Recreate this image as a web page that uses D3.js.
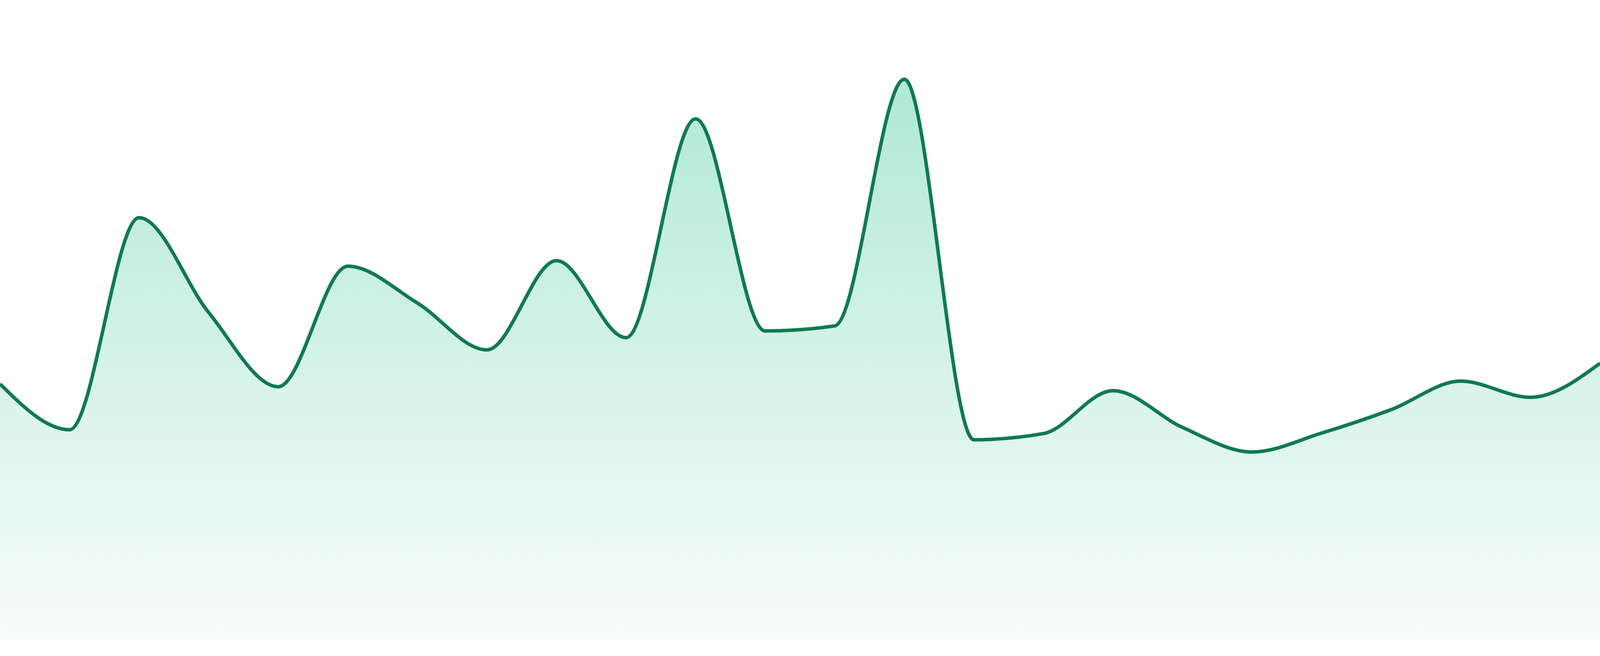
<!DOCTYPE html>
<html>
<head>
<meta charset="utf-8">
<script src="https://cdn.jsdelivr.net/npm/d3@7"></script>
<style>
  html, body { margin: 0; padding: 0; background: #fff; overflow: hidden; }
  svg { display: block; }
</style>
</head>
<body>
<svg id="chart"></svg>
<script>
// the chart was laid out for 4800x1680; fit it to whatever the window really is
const width = window.innerWidth || 4800;
const height = window.innerHeight || 1680;
const ky = height / 1680;

// one value per step
const steps = d3.range(24);
const values = [45.4, 37.2, 75.2, 58.2, 44.9, 66.5, 59.9, 51.5, 67.5, 53.7, 92.9, 54.9,
                55.8, 100, 35.4, 36.5, 44.2, 37.6, 33.2, 36.6, 40.8, 45.9, 43.0, 49.1];

const lineColor = "#107a50";
const fillColor = "#10b981";

const svg = d3.select("#chart").attr("width", width).attr("height", height);

var xScale = d3.scaleLinear()
    .domain([0, steps.length - 1])
    .range([0, width]);

var yScale = d3.scaleLinear()
    .domain([0, 100])
    .range([1632 * ky, 203 * ky]);

const defs = svg.append("defs");
const grad = defs.append("linearGradient")
    .attr("id", "areaFill")
    .attr("x1", 0).attr("y1", 0)
    .attr("x2", 0).attr("y2", 1);
grad.append("stop").attr("offset", "0%").attr("stop-color", fillColor).attr("stop-opacity", 0.33);
grad.append("stop").attr("offset", "100%").attr("stop-color", fillColor).attr("stop-opacity", 0.03);

var area = d3.area()
    .x(function (d, i) { return xScale(steps[i]); })
    .y0(yScale(0))
    .y1(function (d) { return yScale(d); })
    .curve(d3.curveMonotoneX);

var line = d3.line()
    .x(function (d, i) { return xScale(steps[i]); })
    .y(function (d) { return yScale(d); })
    .curve(d3.curveMonotoneX);

svg.append("path")
    .datum(values)
    .attr("fill", "url(#areaFill)")
    .attr("d", area);

svg.append("path")
    .datum(values)
    .attr("fill", "none")
    .attr("stroke", lineColor)
    .attr("stroke-width", 9)
    .attr("stroke-linejoin", "round")
    .attr("d", line);
</script>
</body>
</html>
